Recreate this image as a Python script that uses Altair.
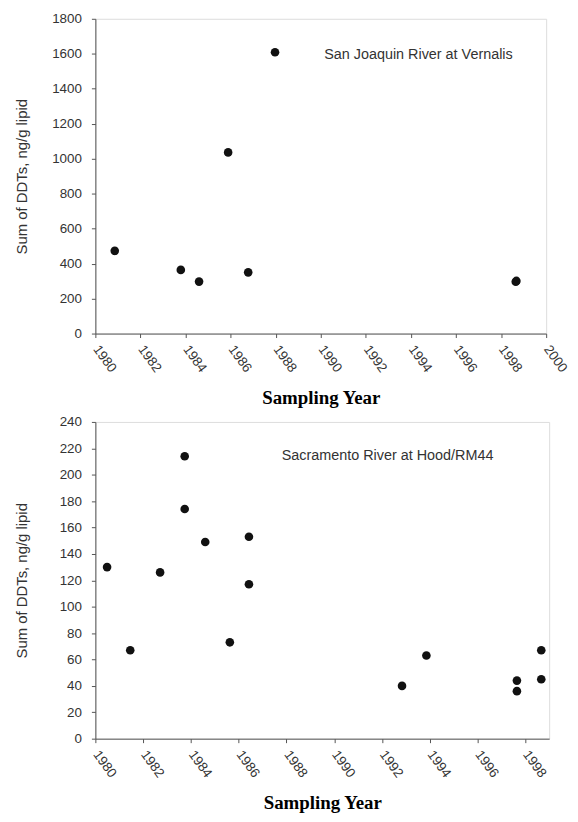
import altair as alt
import pandas as pd

# San Joaquin River at Vernalis
sj_years = [1980.86, 1983.79, 1984.60, 1985.89, 1986.78, 1987.97, 1998.65, 1998.68]
sj_ddt = [473, 364, 297, 1036, 350, 1609, 296, 301]

# Sacramento River at Hood/RM44
sac_years = [1980.49, 1981.46, 1982.71, 1983.74, 1983.74, 1984.60, 1985.63,
             1986.43, 1986.43, 1992.84, 1993.86, 1997.65, 1997.65, 1998.67, 1998.67]
sac_ddt = [130, 67, 126, 214, 174, 149, 73, 153, 117, 40, 63, 44, 36, 67, 45]

sj_label = ["San Joaquin River at Vernalis"]
sj_label_pos = [1990.15, 1590]
sac_label = ["Sacramento River at Hood/RM44"]
sac_label_pos = [1987.8, 214]

sj_xticks = list(range(1980, 2001, 2))
sac_xticks = list(range(1980, 1999, 2))
sj_yticks = list(range(0, 1801, 200))
sac_yticks = list(range(0, 241, 20))

SANS = "Liberation Sans"
SERIF = "Liberation Serif"
AX = "#555555"
TXT = "#333333"


def panel(years, vals, label, label_pos, xdom, xticks, ydom, yticks, w, h):
    df = pd.DataFrame({"year": years, "ddt": vals})
    xaxis = alt.Axis(values=xticks, format="d", labelAngle=54,
                     title="Sampling Year", titleFont=SERIF,
                     titleFontSize=19, titleFontWeight="bold",
                     titleColor="#000000", titlePadding=14,
                     labelFont=SANS, labelFontSize=13.5, labelColor=TXT,
                     labelPadding=9, tickSize=4, tickColor=AX,
                     domainColor=AX, grid=False, labelOverlap=False,
                     labelFlush=False)
    yaxis = alt.Axis(values=yticks, format="d",
                     title="Sum of DDTs, ng/g lipid", titleFont=SANS,
                     titleFontSize=15, titleFontWeight="normal",
                     titleColor=TXT, titlePadding=16,
                     labelFont=SANS, labelFontSize=13.5, labelColor=TXT,
                     labelPadding=10, tickSize=4, tickColor=AX,
                     domainColor=AX, grid=False, labelOverlap=False,
                     labelFlush=False, minExtent=50, maxExtent=50)
    xs = alt.Scale(domain=xdom, nice=False, zero=False)
    ys = alt.Scale(domain=ydom, nice=False)
    pts = alt.Chart(df).mark_circle(size=75, color="#111111", opacity=1).encode(
        x=alt.X("year:Q", scale=xs, axis=xaxis),
        y=alt.Y("ddt:Q", scale=ys, axis=yaxis))
    ldf = pd.DataFrame({"lx": [label_pos[0]], "ly": [label_pos[1]], "t": label})
    txt = alt.Chart(ldf).mark_text(align="left", baseline="middle", font=SANS,
                                   fontSize=14.5, color=TXT).encode(
        x=alt.X("lx:Q", scale=xs, axis=xaxis),
        y=alt.Y("ly:Q", scale=ys, axis=yaxis),
        text="t:N")
    return alt.layer(pts, txt).properties(width=w, height=h)


top = panel(sj_years, sj_ddt, sj_label, sj_label_pos, [1980, 2000], sj_xticks,
            [0, 1800], sj_yticks, 454, 317)
bottom = panel(sac_years, sac_ddt, sac_label, sac_label_pos, [1980, 1999], sac_xticks,
               [0, 240], sac_yticks, 457, 319)

chart = alt.vconcat(top, bottom, spacing=6).properties(
    padding={"left": 6, "top": 0, "right": 0, "bottom": 0}
).configure_view(stroke=AX, strokeWidth=1).configure_axis(
    labelOverlap=False
).configure(background="white")

chart.save("out.html", embed_options={"renderer": "svg", "actions": False})
